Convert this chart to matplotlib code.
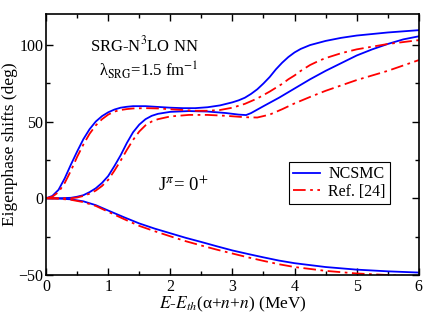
import matplotlib
matplotlib.use("Agg")
import matplotlib.pyplot as plt
from matplotlib.ticker import MultipleLocator

plt.rcParams['font.family'] = ['Liberation Serif', 'DejaVu Serif']
plt.rcParams['mathtext.fontset'] = 'stix'

# ---- data ----
e_a = [0, 0.1, 0.2, 0.3, 0.4, 0.5, 0.6, 0.7, 0.8, 0.9, 1.0, 1.1, 1.2, 1.3, 1.4, 1.6, 1.8, 2.0,
       2.2, 2.4, 2.6, 2.8, 3.0, 3.1, 3.2, 3.3, 3.4, 3.5, 3.6, 3.7, 3.8, 3.9, 4.0, 4.1, 4.25,
       4.5, 4.75, 5.0, 5.5, 6.0]
ncsmc_1 = [0, 1.5, 5.5, 13, 22, 30.5, 38.5, 45, 50, 53.5, 56, 57.8, 59, 59.6, 60, 60, 59.5, 59,
           58.7, 58.7, 59.3, 60.5, 62.5, 63.8, 65.5, 68, 71, 74.8, 79, 84, 88.3, 92, 95, 97.3,
           99.8, 102.5, 104.5, 106, 108, 109.5]

e_ra = [0, 0.1, 0.2, 0.3, 0.4, 0.5, 0.6, 0.7, 0.8, 0.9, 1.0, 1.1, 1.2, 1.3, 1.4, 1.6, 1.8, 2.0,
        2.2, 2.4, 2.6, 2.8, 3.0, 3.2, 3.4, 3.6, 3.7, 3.8, 3.9, 4.0, 4.1, 4.25, 4.4, 4.5, 4.75,
        5.0, 5.5, 6.0]
ref_1 = [0, 1, 4, 10, 18, 27, 35, 42, 47.5, 51.5, 54.5, 56.5, 57.5, 58.1, 58.5, 58.7, 58.5, 58,
         57.5, 57, 57, 57.5, 59, 61.5, 65, 69.5, 72, 74.5, 77.5, 80, 83, 86.8, 89.7, 91.3, 94.5,
         97, 100.5, 103]

e_b = [0, 0.2, 0.4, 0.5, 0.6, 0.7, 0.8, 0.9, 1.0, 1.1, 1.2, 1.3, 1.4, 1.5, 1.6, 1.7, 1.8, 2.0,
       2.3, 2.6, 2.9, 3.1, 3.22, 3.3, 3.5, 3.75, 4.0, 4.25, 4.5, 4.75, 5.0, 5.25, 5.5, 5.75, 6.0]
ncsmc_2 = [0, 0, 0.3, 1, 2, 4, 6.5, 10, 14.5, 21, 28, 36, 43, 48, 51.5, 53.7, 55, 56.3,
           56.8, 56.5, 55.5, 54.5, 54.2, 55.5, 60, 65.5, 71.5, 77.5, 83, 88, 93, 97, 100.5,
           103.5, 105.5]

e_rb = [0, 0.2, 0.4, 0.5, 0.6, 0.7, 0.8, 0.9, 1.0, 1.1, 1.2, 1.3, 1.4, 1.5, 1.6, 1.7, 1.8, 2.0,
        2.3, 2.6, 2.9, 3.2, 3.4, 3.6, 3.8, 4.0, 4.25, 4.5, 4.75, 5.0, 5.5, 6.0]
ref_2 = [0, 0, 0, 0.5, 1.5, 3, 5, 8, 12, 18, 24.5, 31.5, 38, 43.5, 47.5, 50, 51.5, 53.3,
         54.3, 54.3, 53.7, 52.8, 52.6, 54.5, 58, 61.8, 66, 70, 73.5, 77, 83, 90]

e_c = [0, 0.2, 0.4, 0.6, 0.8, 1.0, 1.25, 1.5, 1.75, 2.0, 2.25, 2.5, 2.75, 3.0, 3.25, 3.5,
       3.75, 4.0, 4.5, 5.0, 5.5, 6.0]
ncsmc_3 = [0, -0.2, -0.7, -2, -4.5, -8, -12.3, -16.4, -19.8, -22.8, -25.8, -28.5, -31.3,
           -34, -36.3, -38.5, -40.6, -42.3, -44.8, -46.5, -47.6, -48.4]
ref_3 = [0, -0.3, -1, -2.5, -5, -8.8, -13.5, -18, -21.5, -24.8, -28, -30.8, -33.5,
         -36, -38.5, -40.8, -43, -44.8, -47.3, -49, -50, -51]

xticks = [0, 1, 2, 3, 4, 5, 6]
yticks = [-50, 0, 50, 100]

fig = plt.figure(figsize=(4.23, 3.27), dpi=100)
ax = fig.add_axes([0.109, 0.159, 0.881, 0.798])

blue = '#0000ff'
red = '#ff0000'
lw = 1.3
dash = (0, (7, 2.5, 1.5, 2.5))

ax.plot(e_a, ncsmc_1, color=blue, lw=lw, label='NCSMC')
ax.plot(e_b, ncsmc_2, color=blue, lw=lw)
ax.plot(e_c, ncsmc_3, color=blue, lw=lw)
ax.plot(e_ra, ref_1, color=red, lw=lw, ls=dash, label='Ref. [24]')
ax.plot(e_rb, ref_2, color=red, lw=lw, ls=dash)
ax.plot(e_c, ref_3, color=red, lw=lw, ls=dash)

ax.set_xlim(0, 6)
ax.set_ylim(-50, 120)
ax.set_xticks(xticks)
ax.set_yticks(yticks)
ax.xaxis.set_minor_locator(MultipleLocator(0.5))
ax.yaxis.set_minor_locator(MultipleLocator(25))
ax.tick_params(which='both', direction='in', top=True, right=True, labelsize=11.5, width=1)
ax.tick_params(which='major', length=5)
ax.tick_params(which='minor', length=3)
ax.tick_params(axis='x', pad=3)
ax.tick_params(axis='y', pad=2)
for s in ax.spines.values():
    s.set_linewidth(1.2)

ax.set_xlabel(r'$E$-$E_{th}$(α+$n$+$n$) (MeV)', fontsize=12.5, labelpad=0)
ax.set_ylabel('Eigenphase shifts (deg)', fontsize=12.5, labelpad=0)

ax.text(0.265, 0.88, r'SRG-N$^{3}$LO NN', transform=ax.transAxes, ha='center',
        va='center', fontsize=12)
ax.text(0.275, 0.785, r'λ$_{\mathrm{SRG}}$=1.5 fm$^{-1}$', transform=ax.transAxes,
        ha='center', va='center', fontsize=12)
ax.text(0.367, 0.345, r'J$^{\pi}$= 0$^{+}$', transform=ax.transAxes, ha='center',
        va='center', fontsize=13.5)

leg = ax.legend(loc='upper left', bbox_to_anchor=(0.652, 0.432), fontsize=11.5,
                frameon=True, fancybox=False, edgecolor='black', framealpha=1,
                handlelength=1.7, handletextpad=0.5, borderpad=0.25,
                labelspacing=0.1, borderaxespad=0)
leg.get_frame().set_linewidth(0.8)

fig.savefig('out.png', dpi=100)
